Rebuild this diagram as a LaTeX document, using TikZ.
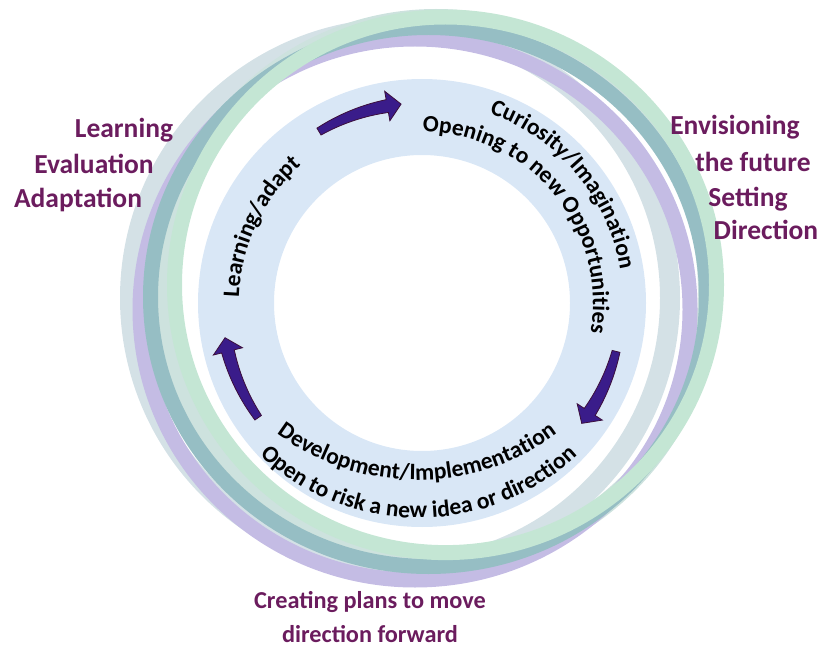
\documentclass[tikz,border=0pt]{standalone}
\usepackage{fontspec}
\setmainfont{Carlito}
\usetikzlibrary{decorations.text}

\definecolor{bandblue}{RGB}{217,231,246}
\definecolor{ringgrey}{RGB}{212,225,230}
\definecolor{ringbase}{RGB}{205,226,222}
\definecolor{ringmint}{RGB}{196,230,212}
\definecolor{ringteal}{RGB}{150,190,196}
\definecolor{ringlav}{RGB}{196,188,228}
\definecolor{arrowfill}{RGB}{58,28,138}
\definecolor{arrowedge}{RGB}{60,15,60}
\definecolor{labelpurple}{RGB}{107,28,94}

\tikzset{
  sidelabel/.style={text=labelpurple, font=\bfseries\fontsize{27.5}{33}\selectfont,
    anchor=base, inner sep=0pt},
  bottomlabel/.style={sidelabel, font=\bfseries\fontsize{24.3}{29}\selectfont},
  stripe/.style={line width=15pt},
  cyclearrow/.style={fill=arrowfill, draw=arrowedge, line width=0.8pt, line join=miter},
  ringtext/.style={decorate, decoration={text along path, text align=center,
    text={|\bfseries\fontsize{23.5}{28}\selectfont|#1}}}
}

\begin{document}
\begin{tikzpicture}[x=1pt, y=1pt]
  \useasboundingbox (0,0) rectangle (822,-647);
  % outer band: shifted rings
  \draw[stripe, ringgrey, line width=20pt] (400,-298) circle[radius=270];
  \draw[stripe, ringbase, line width=20pt] (436,-291) circle[radius=272];
  \draw[stripe, ringlav] (415,-309.5) ellipse[x radius=275, y radius=270.5];
  \draw[stripe, ringteal] (428.5,-297) ellipse[x radius=278, y radius=269.5];
  \draw[stripe, ringmint] (445.5,-284.8) ellipse[x radius=271, y radius=267.8];

  % inner band
  \coordinate (ctr) at (422,-303);
  \fill[bandblue, even odd rule] (ctr) circle[radius=224] (ctr) circle[radius=148];

  \begin{scope}[shift={(ctr)}]
    % arrows: tail / head base / tip angles
    \foreach \a/\h/\b in {121/100/96, -14/-33/-37, 215/194/190}
      \filldraw[cyclearrow]
        plot[smooth, variable=\t, domain=0:1, samples=9] ({\a+(\h-\a)*\t}:{204+2.5*\t})
        -- (\h:215) -- (\b:200) -- (\h:185)
        -- plot[smooth, variable=\t, domain=1:0, samples=9] ({\a+(\h-\a)*\t}:{196-2.5*\t})
        -- cycle;

    \path[ringtext={Curiosity/Imagination}] (130:201) arc[start angle=130, end angle=-50, radius=201];
    \path[ringtext={Opening to new Opportunities}] (130:171) arc[start angle=130, end angle=-50, radius=171];
    \path[ringtext={Learning/adapt}] (244.7:183) arc[start angle=244.7, end angle=64.7, radius=183];
  \end{scope}
  \path[ringtext={Development/Implementation}] (182,-245) arc[start angle=180, end angle=360, radius=235];
  \path[ringtext={Open to risk a new idea or direction}] (185.5,-285) arc[start angle=180, end angle=360, radius=233];

  \node[sidelabel] (learn1) at (124,-138) {Learning};
  \node[sidelabel] (learn2) at (94,-174) {Evaluation};
  \node[sidelabel] (learn3) at (78,-208) {Adaptation};
  \node[sidelabel] (vision1) at (735,-135) {Envisioning};
  \node[sidelabel] (vision2) at (753,-172) {the future};
  \node[sidelabel] (vision3) at (748,-207) {Setting};
  \node[sidelabel] (vision4) at (766,-240) {Direction};
  \node[bottomlabel] (plan1) at (370,-608) {Creating plans to move};
  \node[bottomlabel] (plan2) at (370,-642) {direction forward};
\end{tikzpicture}
\end{document}
